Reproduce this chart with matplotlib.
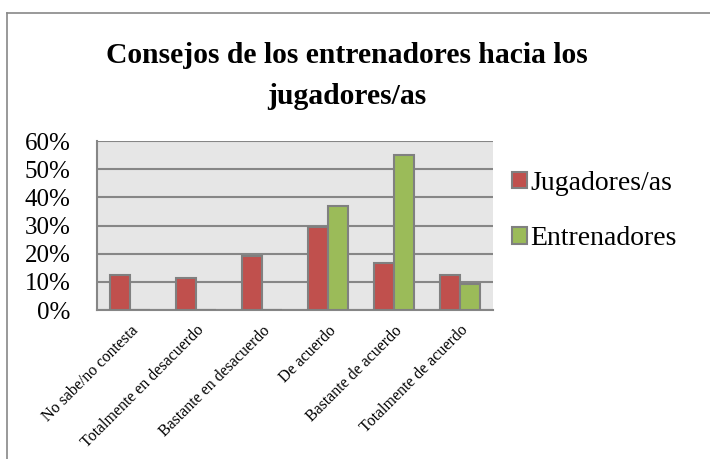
import matplotlib.pyplot as plt
import numpy as np
from matplotlib.lines import Line2D

plt.rcParams['font.family'] = ['Liberation Serif', 'DejaVu Serif']

categorias = ['No sabe/no contesta', 'Totalmente en desacuerdo',
              'Bastante en desacuerdo', 'De acuerdo',
              'Bastante de acuerdo', 'Totalmente de acuerdo']
jugadores = [12.4, 11.5, 19.3, 29.5, 16.6, 12.3]
entrenadores = [0, 0, 0, 36.8, 55.0, 9.2]
yticks = [0, 10, 20, 30, 40, 50, 60]
titulo = ['Consejos de los entrenadores hacia los', 'jugadores/as']

fig = plt.figure(figsize=(7.1, 4.59), dpi=100)
ax = fig.add_axes([0.1366, 0.3246, 0.5574, 0.3682])

x = np.arange(len(categorias))
w = 0.3
edge = '#808080'
ax.bar(x - w / 2, jugadores, w, color='#c0504d', edgecolor=edge,
       linewidth=1.5, label='Jugadores/as', zorder=3)
ax.bar(x + w / 2, entrenadores, w, color='#9bbb59', edgecolor=edge,
       linewidth=1.5, label='Entrenadores', zorder=3)

ax.set_facecolor('#e6e6e6')
ax.set_xlim(-0.5, len(categorias) - 0.5)
ax.set_ylim(0, 60)
ax.set_yticks(yticks)
ax.set_yticklabels([f'{v}%' for v in yticks], fontsize=18)
ax.yaxis.grid(True, color='#868686', linewidth=1.5, zorder=0)
ax.set_axisbelow(True)
ax.tick_params(length=0)
ax.tick_params(axis='y', pad=19)
ax.set_xticks(x)
ax.set_xticklabels(categorias, rotation=45, ha='right',
                   rotation_mode='anchor', fontsize=11.5)
ax.tick_params(axis='x', pad=9)
for s in ['top', 'right']:
    ax.spines[s].set_visible(False)
for s in ['left', 'bottom']:
    ax.spines[s].set_color('#868686')
    ax.spines[s].set_linewidth(1.5)

# título en dos líneas
fig.text(0.489, 0.8627, titulo[0], ha='center', va='baseline',
         fontsize=21.3, fontweight='bold')
fig.text(0.489, 0.7734, titulo[1], ha='center', va='baseline',
         fontsize=21.3, fontweight='bold')

leg = fig.legend(loc='upper left', bbox_to_anchor=(0.721, 0.628),
                 frameon=False, fontsize=20, handlelength=0.55,
                 handleheight=0.55, handletextpad=0.1, labelspacing=1.1,
                 borderpad=0, borderaxespad=0)
for h in leg.legend_handles:
    h.set_edgecolor(edge)
    h.set_linewidth(1.5)

# marco exterior del gráfico
fig.add_artist(Line2D([0.01, 0.01], [0, 0.972], transform=fig.transFigure,
                      color='#888888', linewidth=1.2))
fig.add_artist(Line2D([0.01, 1.0], [0.972, 0.972], transform=fig.transFigure,
                      color='#888888', linewidth=1.2))

fig.savefig('out.png', dpi=100)
